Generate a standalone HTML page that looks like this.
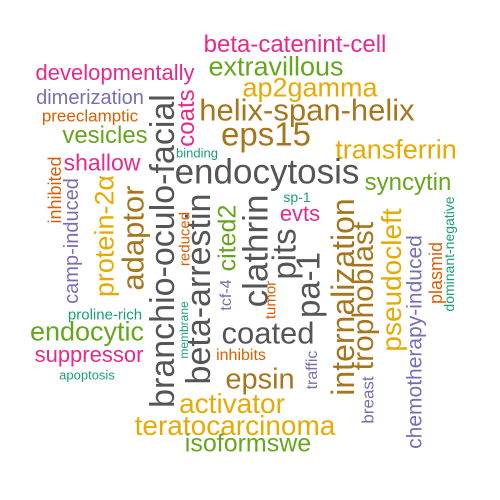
<!DOCTYPE html>
<html><head><meta charset="utf-8"><style>
html,body{margin:0;padding:0;background:#fff;}
#c{position:relative;width:500px;height:500px;overflow:hidden;background:#fff;font-family:"Liberation Sans",sans-serif;}
#c span{position:absolute;white-space:nowrap;line-height:1;}
</style></head><body>
<div id="c"></div>
<script>
const words=["beta-catenint-cell","extravillous","developmentally","ap2gamma","dimerization","helix-span-helix","preeclamptic","eps15","vesicles","transferrin","binding","shallow","endocytosis","syncytin","sp-1","evts","proline-rich","endocytic","suppressor","apoptosis","coated","inhibits","epsin","activator","teratocarcinoma","isoformswe","coats","branchio-oculo-facial","adaptor","protein-2α","inhibited","camp-induced","beta-arrestin","reduced","cited2","tcf-4","membrane","clathrin","pits","tumor","pa-1","traffic","internalization","trophoblast","breast","pseudocleft","chemotherapy-induced","plasmid","dominant-negative"];
const sizes=[24,27,22,27,20,31,17,33,24,27,13,23,35,24,14,22,15,27,22,13,31,16,29,28,28,25,24,34,31,27,18,20,34,15,25,16,12,35,33,15,33,16,32,30,17,28,21,18,14];
const cxs=[295,276,115,310,90,307,90,266,105,396,197,102,267,408,297,300,105,87,89,87,268,241,260,232,235,248,187,163,133,105,55,72,199,185,228,227,184,256,284,271,308,313,343,364,368,392,415,436,449];
const cys=[45,67,73,88,98,110,116,134,136,150,153,163,172,183,197,214,315,332,355,375,333,356,380,404,426,444,118,251,238,236,190,241,289,239,238,295,330,251,254,300,285,370,297,296,400,280,342,273,254];
const rots=[0,0,0,0,0,0,0,0,0,0,0,0,0,0,0,0,0,0,0,0,0,0,0,0,0,0,1,1,1,1,1,1,1,1,1,1,1,1,1,1,1,1,1,1,1,1,1,1,1];
const cols=["#E7298A","#66A61E","#E7298A","#E6AB02","#7570B3","#A6761D","#D95F02","#A6761D","#66A61E","#E6AB02","#1B9E77","#E7298A","#555555","#66A61E","#1B9E77","#E7298A","#1B9E77","#66A61E","#E7298A","#1B9E77","#555555","#D95F02","#A6761D","#E6AB02","#E6AB02","#66A61E","#E7298A","#555555","#A6761D","#E6AB02","#D95F02","#7570B3","#555555","#D95F02","#66A61E","#7570B3","#1B9E77","#555555","#555555","#D95F02","#555555","#7570B3","#A6761D","#A6761D","#7570B3","#E6AB02","#7570B3","#D95F02","#1B9E77"];
const c=document.getElementById('c');
words.forEach((w,i)=>{
  const s=document.createElement('span');
  s.textContent=w;
  
  
  s.style.fontSize=sizes[i]+'px';
  s.style.color=cols[i];
  s.style.left=cxs[i]+'px';
  s.style.top=cys[i]+'px';
  s.style.transform='translate(-50%,-50%)'+(rots[i]?' rotate(-90deg)':'');
  c.appendChild(s);
});
</script>
</body></html>
